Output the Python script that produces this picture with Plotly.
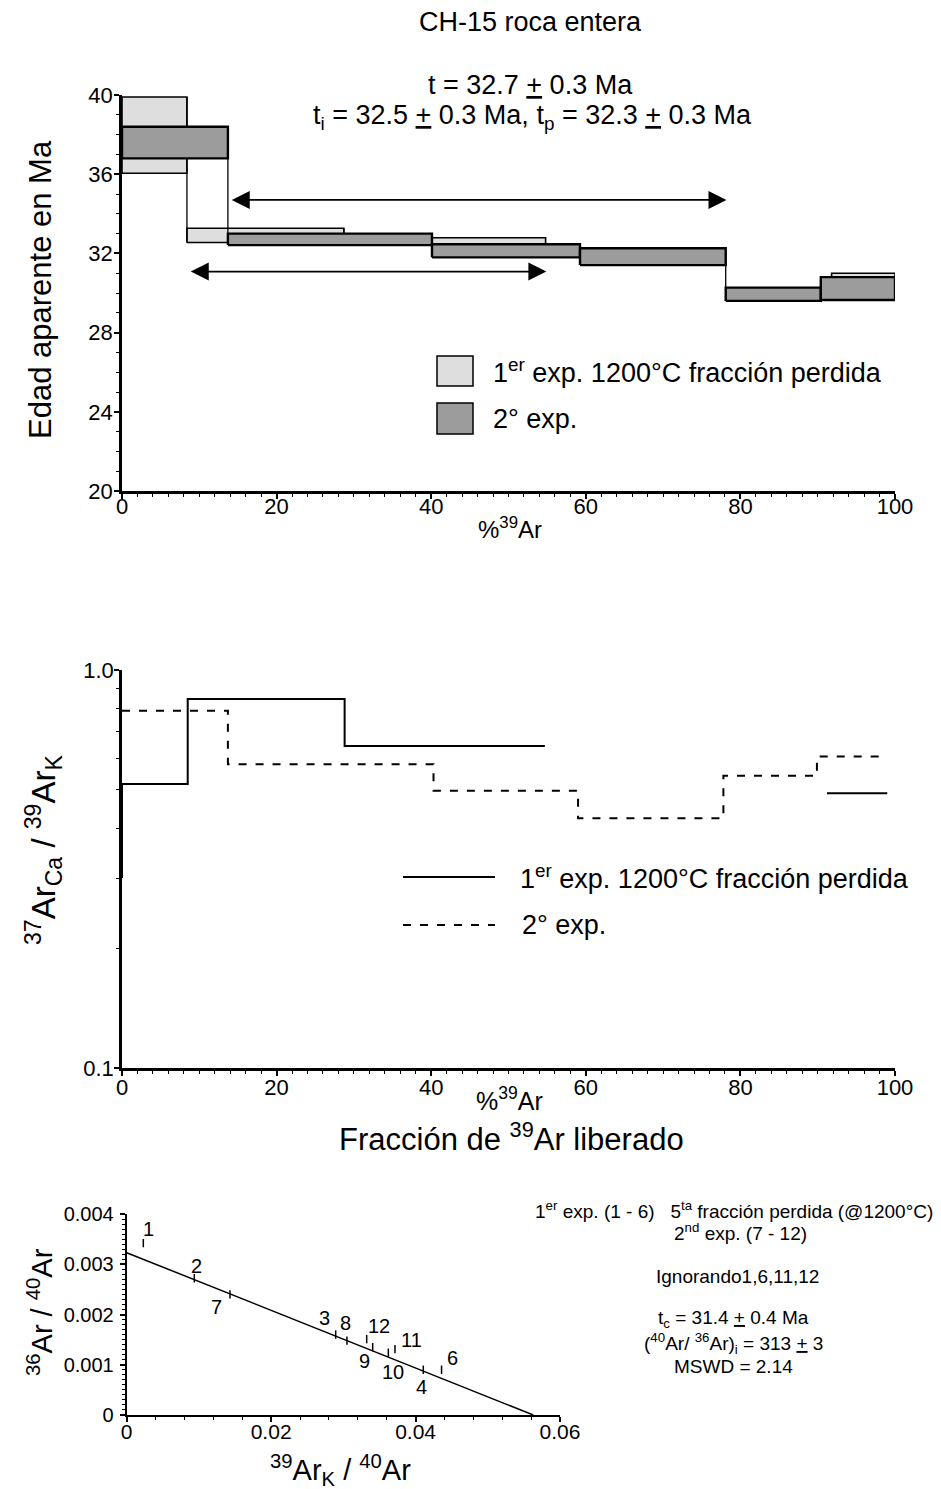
import plotly.graph_objects as go

W, H = 941, 1489
FONT = "Liberation Sans, Arial, sans-serif"

# ---------------- Data: age spectrum (% 39Ar vs apparent age, Ma) ----------------
exp1_x0 = [0, 8.4, 28.7, 40.1, 91.8]
exp1_x1 = [8.4, 28.7, 40.1, 54.8, 100]
exp1_lo = [36.05, 32.55, 32.5, 32.35, 29.9]
exp1_hi = [39.9, 33.27, 32.95, 32.79, 31.0]

exp2_x0 = [0, 13.7, 40.1, 59.25, 78.1, 90.4]
exp2_x1 = [13.7, 40.1, 59.25, 78.1, 90.4, 100]
exp2_lo = [36.8, 32.42, 31.8, 31.41, 29.6, 29.65]
exp2_hi = [38.4, 33.0, 32.46, 32.26, 30.27, 30.8]

# plateau arrows (x range in %39Ar, age level)
arrow1_x = [14.0, 78.2]
arrow1_age = 34.7
arrow2_x = [8.7, 54.9]
arrow2_age = 31.08

# ---------------- Data: 37ArCa/39ArK steps ----------------
cak1_start = 0.30
cak1_edges = [0, 8.5, 28.8, 54.7]
cak1_vals = [0.517, 0.846, 0.644]
cak1b_edges = [91.2, 99]
cak1b_vals = [0.49]
cak2_edges = [0, 13.7, 40.3, 59.0, 77.8, 89.9, 99]
cak2_vals = [0.79, 0.58, 0.497, 0.424, 0.542, 0.606]

# ---------------- Data: inverse isochron ----------------
iso_labels = ["1", "2", "3", "4", "6", "7", "8", "9", "10", "11", "12"]
iso_x = [0.0023, 0.00936, 0.02894, 0.04107, 0.0436, 0.0143, 0.0305, 0.03406, 0.03623, 0.03715, 0.03323]
iso_y = [0.00342, 0.00272, 0.00160, 0.00090, 0.00090, 0.00240, 0.00148, 0.00135, 0.00124, 0.00131, 0.00151]
fit_y_intercept = 0.00323
fit_x_intercept = 0.0563

# label pixel offsets (style)
label_off = {"1": (5, 14), "2": (2, 12), "3": (-11, 17), "4": (-2, -17), "6": (11, 12),
             "7": (-13, -13), "8": (-1, 18), "9": (-8, -14), "10": (5, -19), "11": (17, 9), "12": (12, 13)}


def px(x):
    return x / W


def py(y):
    return 1 - y / H


fig = go.Figure()

LIGHT = "#dedede"
DARK = "#9c9c9c"


def add_boxes(x0s, x1s, los, his, color, lw, axis):
    xa, ya = axis
    for a, b, lo, hi in zip(x0s, x1s, los, his):
        fig.add_trace(go.Scatter(x=[a, b, b, a, a], y=[lo, lo, hi, hi, lo], mode="lines",
                                 fill="toself", fillcolor=color,
                                 line=dict(color="black", width=lw),
                                 xaxis=xa, yaxis=ya, showlegend=False, hoverinfo="skip"))
    for i in range(len(x0s) - 1):
        if abs(x1s[i] - x0s[i + 1]) < 1e-9:
            b = x1s[i]
            fig.add_trace(go.Scatter(x=[b, b], y=[min(los[i], los[i + 1]), max(his[i], his[i + 1])],
                                     mode="lines", line=dict(color="black", width=1.3),
                                     xaxis=xa, yaxis=ya, showlegend=False, hoverinfo="skip"))


add_boxes(exp1_x0, exp1_x1, exp1_lo, exp1_hi, LIGHT, 1.6, ("x", "y"))
add_boxes(exp2_x0, exp2_x1, exp2_lo, exp2_hi, DARK, 2.4, ("x", "y"))

# Ca/K step lines
fig.add_trace(go.Scatter(x=[cak1_edges[0]] + cak1_edges, y=[cak1_start] + cak1_vals + [cak1_vals[-1]],
                         mode="lines", line=dict(color="black", width=2, shape="hv"),
                         xaxis="x2", yaxis="y2", showlegend=False))
fig.add_trace(go.Scatter(x=cak1b_edges, y=cak1b_vals + [cak1b_vals[-1]],
                         mode="lines", line=dict(color="black", width=2, shape="hv"),
                         xaxis="x2", yaxis="y2", showlegend=False))
fig.add_trace(go.Scatter(x=cak2_edges, y=cak2_vals + [cak2_vals[-1]],
                         mode="lines", line=dict(color="black", width=2, shape="hv", dash="8px,9px"),
                         xaxis="x2", yaxis="y2", showlegend=False))

# Isochron
fig.add_trace(go.Scatter(x=[0, fit_x_intercept], y=[fit_y_intercept, 0], mode="lines",
                         line=dict(color="black", width=1.5), xaxis="x3", yaxis="y3", showlegend=False))
fig.add_trace(go.Scatter(x=iso_x, y=iso_y, mode="markers",
                         marker=dict(symbol="line-ns", size=6, line=dict(color="black", width=1.5)),
                         xaxis="x3", yaxis="y3", showlegend=False))

ann = []
for lab, xv, yv in zip(iso_labels, iso_x, iso_y):
    dx, dy = label_off[lab]
    ann.append(dict(x=xv, y=yv, xref="x3", yref="y3", text=lab, showarrow=False,
                    xshift=dx, yshift=dy, font=dict(size=20, family=FONT, color="black")))

# Arrows
for (xr, yv) in [(arrow1_x, arrow1_age), (arrow2_x, arrow2_age)]:
    ann.append(dict(x=xr[1], y=yv, ax=xr[0], ay=yv, xref="x", yref="y", axref="x", ayref="y",
                    text="", showarrow=True, arrowhead=2, arrowside="end+start", arrowsize=2.0,
                    arrowwidth=1.8, arrowcolor="black", standoff=0, startstandoff=0))


def text(x, y, t, size, angle=0, xanchor="center"):
    ann.append(dict(x=px(x), y=py(y), xref="paper", yref="paper", text=t, showarrow=False,
                    textangle=angle, xanchor=xanchor, yanchor="middle",
                    font=dict(size=size, family=FONT, color="black")))


PM = "<u>+</u>"
text(530, 22, "CH-15 roca entera", 27)
text(530, 85, f"t = 32.7 {PM} 0.3 Ma", 27)
text(532, 117, f"t<sub>i</sub> = 32.5 {PM} 0.3 Ma, t<sub>p</sub> = 32.3 {PM} 0.3 Ma", 27)
text(40, 290, "Edad aparente en Ma", 31, -90)
text(510, 528, "%<sup>39</sup>Ar", 24)
text(491, 371, "1<sup>er</sup> exp. 1200°C fracción perdida", 27, xanchor="left")
text(491, 419, "2° exp.", 27, xanchor="left")

text(44, 850, "<sup>37</sup>Ar<sub>Ca</sub> / <sup>39</sup>Ar<sub>K</sub>", 33, -90)
text(510, 1099, "%<sup>39</sup>Ar", 25)
text(512, 1137, "Fracción de <sup>39</sup>Ar liberado", 31)
text(518, 877, "1<sup>er</sup> exp. 1200°C fracción perdida", 27, xanchor="left")
text(520, 925, "2° exp.", 27, xanchor="left")

text(40, 1312, "<sup>36</sup>Ar / <sup>40</sup>Ar", 29, -90)
text(340, 1470, "<sup>39</sup>Ar<sub>K</sub> / <sup>40</sup>Ar", 29)
text(734, 1210, "1<sup>er</sup> exp. (1 - 6)   5<sup>ta</sup> fracción perdida (@1200°C)", 19)
text(740, 1232, "2<sup>nd</sup> exp. (7 - 12)", 19)
text(737, 1276, "Ignorando1,6,11,12", 19)
text(733, 1319, f"t<sub>c</sub> = 31.4 {PM} 0.4 Ma", 19)
text(733, 1343, f"(<sup>40</sup>Ar/ <sup>36</sup>Ar)<sub>i</sub> = 313 {PM} 3", 19)
text(733, 1366, "MSWD = 2.14", 19)

shapes = [
    dict(type="rect", xref="paper", yref="paper", x0=px(437), x1=px(473), y0=py(386), y1=py(356),
         fillcolor=LIGHT, line=dict(color="black", width=1.5)),
    dict(type="rect", xref="paper", yref="paper", x0=px(437), x1=px(473), y0=py(434), y1=py(403),
         fillcolor=DARK, line=dict(color="black", width=1.5)),
    dict(type="line", xref="paper", yref="paper", x0=px(403), x1=px(495), y0=py(877), y1=py(877),
         line=dict(color="black", width=2.2)),
    dict(type="line", xref="paper", yref="paper", x0=px(403), x1=px(495), y0=py(925), y1=py(925),
         line=dict(color="black", width=2.2, dash="8px,9px")),
]


def axis(domain, anchor, rng, dtick, minor_dtick, lw=2.5, size=22, standoff=0, **kw):
    d = dict(domain=domain, anchor=anchor, range=rng, dtick=dtick, showline=True, linecolor="black",
             linewidth=lw, ticks="outside", ticklen=5, tickwidth=1.5, tickcolor="black",
             showgrid=False, zeroline=False, automargin=False, ticklabelstandoff=standoff,
             tickfont=dict(size=size, family=FONT, color="black"),
             minor=dict(dtick=minor_dtick, ticks="outside", ticklen=3, tickwidth=1, tickcolor="black",
                        showgrid=False))
    d.update(kw)
    return d


fig.update_layout(
    width=W, height=H, autosize=False,
    margin=dict(l=0, r=0, t=0, b=0, pad=0, autoexpand=False),
    paper_bgcolor="white", plot_bgcolor="white",
    showlegend=False,
    xaxis=axis([px(122), px(895)], "y", [0, 100], 20, 2, standoff=-11),
    yaxis=axis([py(491), py(95)], "x", [20, 40], 4, 1, standoff=-3),
    xaxis2=axis([px(122), px(895)], "y2", [0, 100], 20, 2, standoff=-7),
    yaxis2=dict(domain=[py(1068), py(670)], anchor="x2", type="log", range=[-1, 0],
                tickmode="array", tickvals=[0.1, 1.0], ticktext=["0.1", "1.0"],
                showline=True, linecolor="black", linewidth=2.5, ticks="outside", ticklen=5,
                tickwidth=1.5, tickcolor="black", showgrid=False, zeroline=False, automargin=False,
                ticklabelstandoff=-4,
                tickfont=dict(size=22, family=FONT, color="black"),
                minor=dict(tickmode="array", tickvals=[0.2, 0.3, 0.4, 0.5, 0.6, 0.7, 0.8, 0.9],
                           ticks="outside", ticklen=3, tickwidth=1, tickcolor="black", showgrid=False)),
    xaxis3=axis([px(126.7), px(560)], "y3", [0, 0.06], 0.02, 0.004, lw=2, size=21, standoff=-8),
    yaxis3=axis([py(1415), py(1214)], "x3", [0, 0.004], 0.001, 0.0001, lw=2, size=20, standoff=2),
    annotations=ann,
    shapes=shapes,
)

POST = ("document.documentElement.style.margin='0';document.documentElement.style.padding='0';"
        "document.body.style.margin='0';document.body.style.padding='0';"
        "document.body.style.overflow='hidden';")

fig.write_html("out.html", post_script=POST)
